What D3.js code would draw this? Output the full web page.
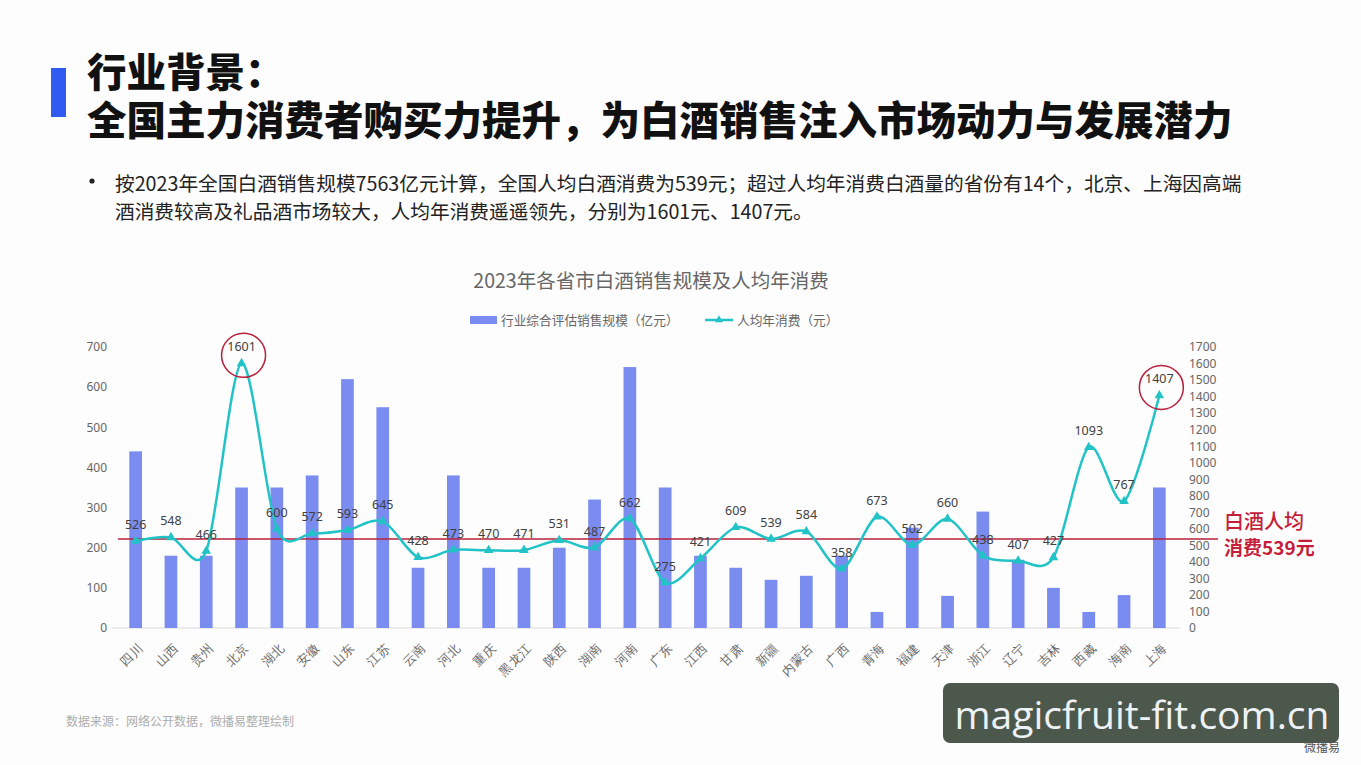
<!DOCTYPE html>
<html>
<head>
<meta charset="utf-8">
<script src="https://cdn.jsdelivr.net/npm/d3@7"></script>
<style>
  html, body { margin: 0; padding: 0; background: #fff; }
  svg { display: block; font-family: "Noto Sans CJK SC", "Noto Sans", sans-serif; }
</style>
</head>
<body>
<div id="chart"></div>
<script>
// 省份 / 销售规模（亿元）/ 人均年消费（元）
const provinces = ['四川', '山西', '贵州', '北京', '湖北', '安徽', '山东', '江苏', '云南', '河北', '重庆', '黑龙江', '陕西', '湖南', '河南', '广东', '江西', '甘肃', '新疆', '内蒙古', '广西', '青海', '福建', '天津', '浙江', '辽宁', '吉林', '西藏', '海南', '上海'];
const salesScale = [440, 180, 180, 350, 350, 380, 620, 550, 150, 380, 150, 150, 200, 320, 650, 350, 180, 150, 120, 130, 180, 40, 250, 80, 290, 170, 100, 40, 82, 350];
const perCapita = [526, 548, 466, 1601, 600, 572, 593, 645, 428, 473, 470, 471, 531, 487, 662, 275, 421, 609, 539, 584, 358, 673, 502, 660, 438, 407, 427, 1093, 767, 1407];
const leftTicks = [0, 100, 200, 300, 400, 500, 600, 700];
const rightTicks = d3.range(0, 1800, 100);
const nationalAvg = 539;
const highlighted = ['北京', '上海'];

const W = 1361, H = 765;
const barColor = '#7a8cf0';
const lineColor = '#22c3c6';
const redColor = '#b8213c';

const svg = d3.select('#chart').append('svg')
  .attr('width', W)
  .attr('height', H);

svg.append('rect').attr('width', W).attr('height', H).attr('fill', '#fdfdfd');

// **页面标题**
svg.append('rect')
  .attr('x', 51).attr('y', 68).attr('width', 15).attr('height', 49)
  .attr('fill', '#2f5bf0');

const headline = ['行业背景：', '全国主力消费者购买力提升，为白酒销售注入市场动力与发展潜力'];
svg.append('text')
  .attr('font-size', 39.5).attr('font-weight', 900).attr('fill', '#111')
  .selectAll('tspan')
  .data(headline)
  .enter().append('tspan')
  .attr('x', 87)
  .attr('y', (d, i) => 87 + i * 48)
  .text(d => d);

svg.append('circle')
  .attr('cx', 92).attr('cy', 181).attr('r', 2.6)
  .attr('fill', '#222');

const bullet = [
  '按2023年全国白酒销售规模7563亿元计算，全国人均白酒消费为539元；超过人均年消费白酒量的省份有14个，北京、上海因高端',
  '酒消费较高及礼品酒市场较大，人均年消费遥遥领先，分别为1601元、1407元。'
];
svg.selectAll('.bullet')
  .data(bullet)
  .enter().append('text')
  .attr('class', 'bullet')
  .attr('x', 115)
  .attr('y', (d, i) => 191 + i * 28)
  .attr('font-size', 19.7).attr('fill', '#222')
  .text(d => d);

// **图表标题和图例**
svg.append('text')
  .attr('x', 651).attr('y', 288)
  .attr('text-anchor', 'middle')
  .attr('font-size', 19.5).attr('fill', '#666')
  .text('2023年各省市白酒销售规模及人均年消费');

svg.append('rect')
  .attr('x', 470).attr('y', 316).attr('width', 27).attr('height', 8)
  .attr('fill', barColor);
svg.append('text')
  .attr('x', 501).attr('y', 325)
  .attr('font-size', 12.7).attr('fill', '#666')
  .text('行业综合评估销售规模（亿元）');

svg.append('line')
  .attr('x1', 705).attr('x2', 733).attr('y1', 320).attr('y2', 320)
  .attr('stroke', lineColor).attr('stroke-width', 2.5);
svg.append('path')
  .attr('d', d3.symbol(d3.symbolTriangle, 28)())
  .attr('transform', 'translate(719,320)')
  .attr('fill', lineColor);
svg.append('text')
  .attr('x', 737).attr('y', 325)
  .attr('font-size', 12.7).attr('fill', '#666')
  .text('人均年消费（元）');

// **比例尺**
const x = d3.scaleBand()
  .domain(provinces)
  .range([118, 1177])
  .paddingInner(0.64)
  .paddingOuter(0.32);

const yL = d3.scaleLinear().domain([0, 700]).range([628, 347]);
const yR = d3.scaleLinear().domain([0, 1700]).range([628, 347]);
const cx = d => x(d) + x.bandwidth() / 2;

// **坐标轴**
const axisL = svg.append('g')
  .attr('transform', 'translate(107,0)')
  .call(d3.axisLeft(yL).tickValues(leftTicks).tickSize(0).tickPadding(0).tickFormat(d3.format('d')));
axisL.select('.domain').remove();
axisL.selectAll('text').attr('font-size', 12).attr('fill', '#666')
  .style('font-family', '"Noto Sans", sans-serif');

const axisR = svg.append('g')
  .attr('transform', 'translate(1189,0)')
  .call(d3.axisRight(yR).tickValues(rightTicks).tickSize(0).tickPadding(0).tickFormat(d3.format('d')));
axisR.select('.domain').remove();
axisR.selectAll('text').attr('font-size', 12).attr('fill', '#666')
  .style('font-family', '"Noto Sans", sans-serif');

svg.append('line')
  .attr('x1', x.range()[0] - 6).attr('x2', x.range()[1] + 3)
  .attr('y1', 628).attr('y2', 628)
  .attr('stroke', '#d9d9d9');

const axisB = svg.append('g')
  .attr('transform', 'translate(0,628)')
  .call(d3.axisBottom(x).tickSize(0).tickPadding(0));
axisB.select('.domain').remove();
axisB.selectAll('text')
  .attr('font-size', 12.5).attr('fill', '#666')
  .style('text-anchor', 'end')
  .attr('y', 0)
  .attr('dy', '0.35em')
  .attr('transform', 'translate(5,18) rotate(-45)');

// **柱形**
svg.selectAll('.bar')
  .data(provinces)
  .enter().append('rect')
  .attr('class', 'bar')
  .attr('x', d => x(d))
  .attr('y', (d, i) => yL(salesScale[i]))
  .attr('width', x.bandwidth())
  .attr('height', (d, i) => yL(0) - yL(salesScale[i]))
  .attr('fill', barColor);

// **平均线**
svg.append('line')
  .attr('x1', x.range()[0]).attr('x2', 1218)
  .attr('y1', yR(nationalAvg)).attr('y2', yR(nationalAvg))
  .attr('stroke', redColor).attr('stroke-width', 1.5);

svg.append('text')
  .attr('x', 1224).attr('y', yR(nationalAvg) - 10)
  .attr('font-size', 20).attr('font-weight', 500).attr('fill', '#c41e3a')
  .text('白酒人均');
svg.append('text')
  .attr('x', 1224).attr('y', yR(nationalAvg) + 16)
  .attr('font-size', 19).attr('font-weight', 700).attr('fill', '#c41e3a')
  .text('消费539元');

// **折线**
const points = provinces.map((p, i) => ({ p, v: perCapita[i] }));
const line = d3.line()
  .x(d => cx(d.p))
  .y(d => yR(d.v))
  .curve(d3.curveCardinal.tension(0.1));

svg.append('path')
  .datum(points)
  .attr('fill', 'none')
  .attr('stroke', lineColor)
  .attr('stroke-width', 2.5)
  .attr('d', line);

svg.selectAll('.marker')
  .data(points)
  .enter().append('path')
  .attr('class', 'marker')
  .attr('d', d3.symbol(d3.symbolTriangle, 40)())
  .attr('transform', d => `translate(${cx(d.p)},${yR(d.v)})`)
  .attr('fill', lineColor);

svg.selectAll('.val')
  .data(points)
  .enter().append('text')
  .attr('class', 'val')
  .attr('x', d => cx(d.p))
  .attr('y', d => yR(d.v) - 12)
  .attr('text-anchor', 'middle')
  .attr('font-size', 12.5).attr('fill', '#404040')
  .style('font-family', '"Noto Sans", sans-serif')
  .text(d => d.v);

// **红圈标注**
svg.selectAll('.ring')
  .data(points.filter(d => highlighted.includes(d.p)))
  .enter().append('circle')
  .attr('class', 'ring')
  .attr('cx', d => cx(d.p) + 2)
  .attr('cy', d => yR(d.v) - 8)
  .attr('r', 22)
  .attr('fill', 'none')
  .attr('stroke', redColor)
  .attr('stroke-width', 1.5);

// **数据来源**
svg.append('text')
  .attr('x', 66).attr('y', 726)
  .attr('font-size', 12).attr('fill', '#adadad')
  .text('数据来源：网络公开数据，微播易整理绘制');

// **水印框**
svg.append('rect')
  .attr('x', 943).attr('y', 683).attr('width', 396).attr('height', 60).attr('rx', 7)
  .attr('fill', '#4d584c');
svg.append('text')
  .attr('x', 1142).attr('y', 729)
  .attr('text-anchor', 'middle')
  .attr('font-size', 39).attr('fill', '#eef2f6')
  .style('font-family', '"Open Sans", sans-serif')
  .text('magicfruit-fit.com.cn');
svg.append('text')
  .attr('x', 1340).attr('y', 752)
  .attr('text-anchor', 'end')
  .attr('font-size', 12).attr('fill', '#555')
  .text('微播易');
</script>
</body>
</html>
